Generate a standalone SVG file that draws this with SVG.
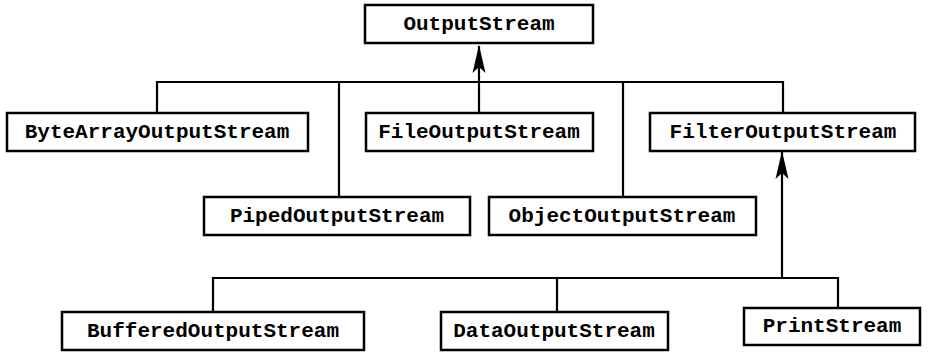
<svg xmlns="http://www.w3.org/2000/svg" width="941" height="353" viewBox="0 0 941 353">
<style>
.box{fill:#fff;stroke:#000;stroke-width:2.5}
.lbl{font-family:"Liberation Mono","Courier New",monospace;font-weight:bold;font-size:21px;text-anchor:middle;fill:#000}
.ln{fill:none;stroke:#000;stroke-width:2.2}
</style>
<defs>
<marker id="arr" viewBox="-7 -1 14 30" refX="0" refY="0" markerWidth="14" markerHeight="30" markerUnits="userSpaceOnUse" orient="auto-start-reverse">
<path d="M0,0 L6.5,28 L0,22 L-6.5,28 Z" fill="#000" transform="rotate(-90)"/>
</marker>
</defs>
<rect width="941" height="353" fill="#fff"/>
<g id="connectors">
<path class="ln" d="M157,113 V82 H783 V113"/>
<path class="ln" d="M339,82 V197"/>
<path class="ln" d="M623,82 V197"/>
<path class="ln" d="M479,113 V46"/>
<path d="M479,45 L485.5,73 L479,67 L472.5,73 Z" fill="#000"/>
<path class="ln" d="M213,312 V278 H838 V308"/>
<path class="ln" d="M557,278 V312"/>
<path class="ln" d="M782,278 V152"/>
<path d="M782,151 L788.5,179 L782,173 L775.5,179 Z" fill="#000"/>
</g>
<g id="OutputStream"><rect class="box" x="365" y="5" width="228" height="38"/><text class="lbl" x="479" y="30">OutputStream</text></g>
<g id="ByteArrayOutputStream"><rect class="box" x="7" y="113" width="301" height="38"/><text class="lbl" x="157" y="138">ByteArrayOutputStream</text></g>
<g id="FileOutputStream"><rect class="box" x="366" y="113" width="227" height="38"/><text class="lbl" x="479" y="138">FileOutputStream</text></g>
<g id="FilterOutputStream"><rect class="box" x="650" y="113" width="265" height="38"/><text class="lbl" x="783" y="138">FilterOutputStream</text></g>
<g id="PipedOutputStream"><rect class="box" x="204" y="197" width="266" height="38"/><text class="lbl" x="337" y="222">PipedOutputStream</text></g>
<g id="ObjectOutputStream"><rect class="box" x="489" y="197" width="267" height="38"/><text class="lbl" x="622" y="222">ObjectOutputStream</text></g>
<g id="BufferedOutputStream"><rect class="box" x="62" y="312" width="302" height="38"/><text class="lbl" x="213" y="337">BufferedOutputStream</text></g>
<g id="DataOutputStream"><rect class="box" x="441" y="312" width="227" height="38"/><text class="lbl" x="554" y="337">DataOutputStream</text></g>
<g id="PrintStream"><rect class="box" x="744" y="308" width="176" height="37"/><text class="lbl" x="832" y="332">PrintStream</text></g>
</svg>
